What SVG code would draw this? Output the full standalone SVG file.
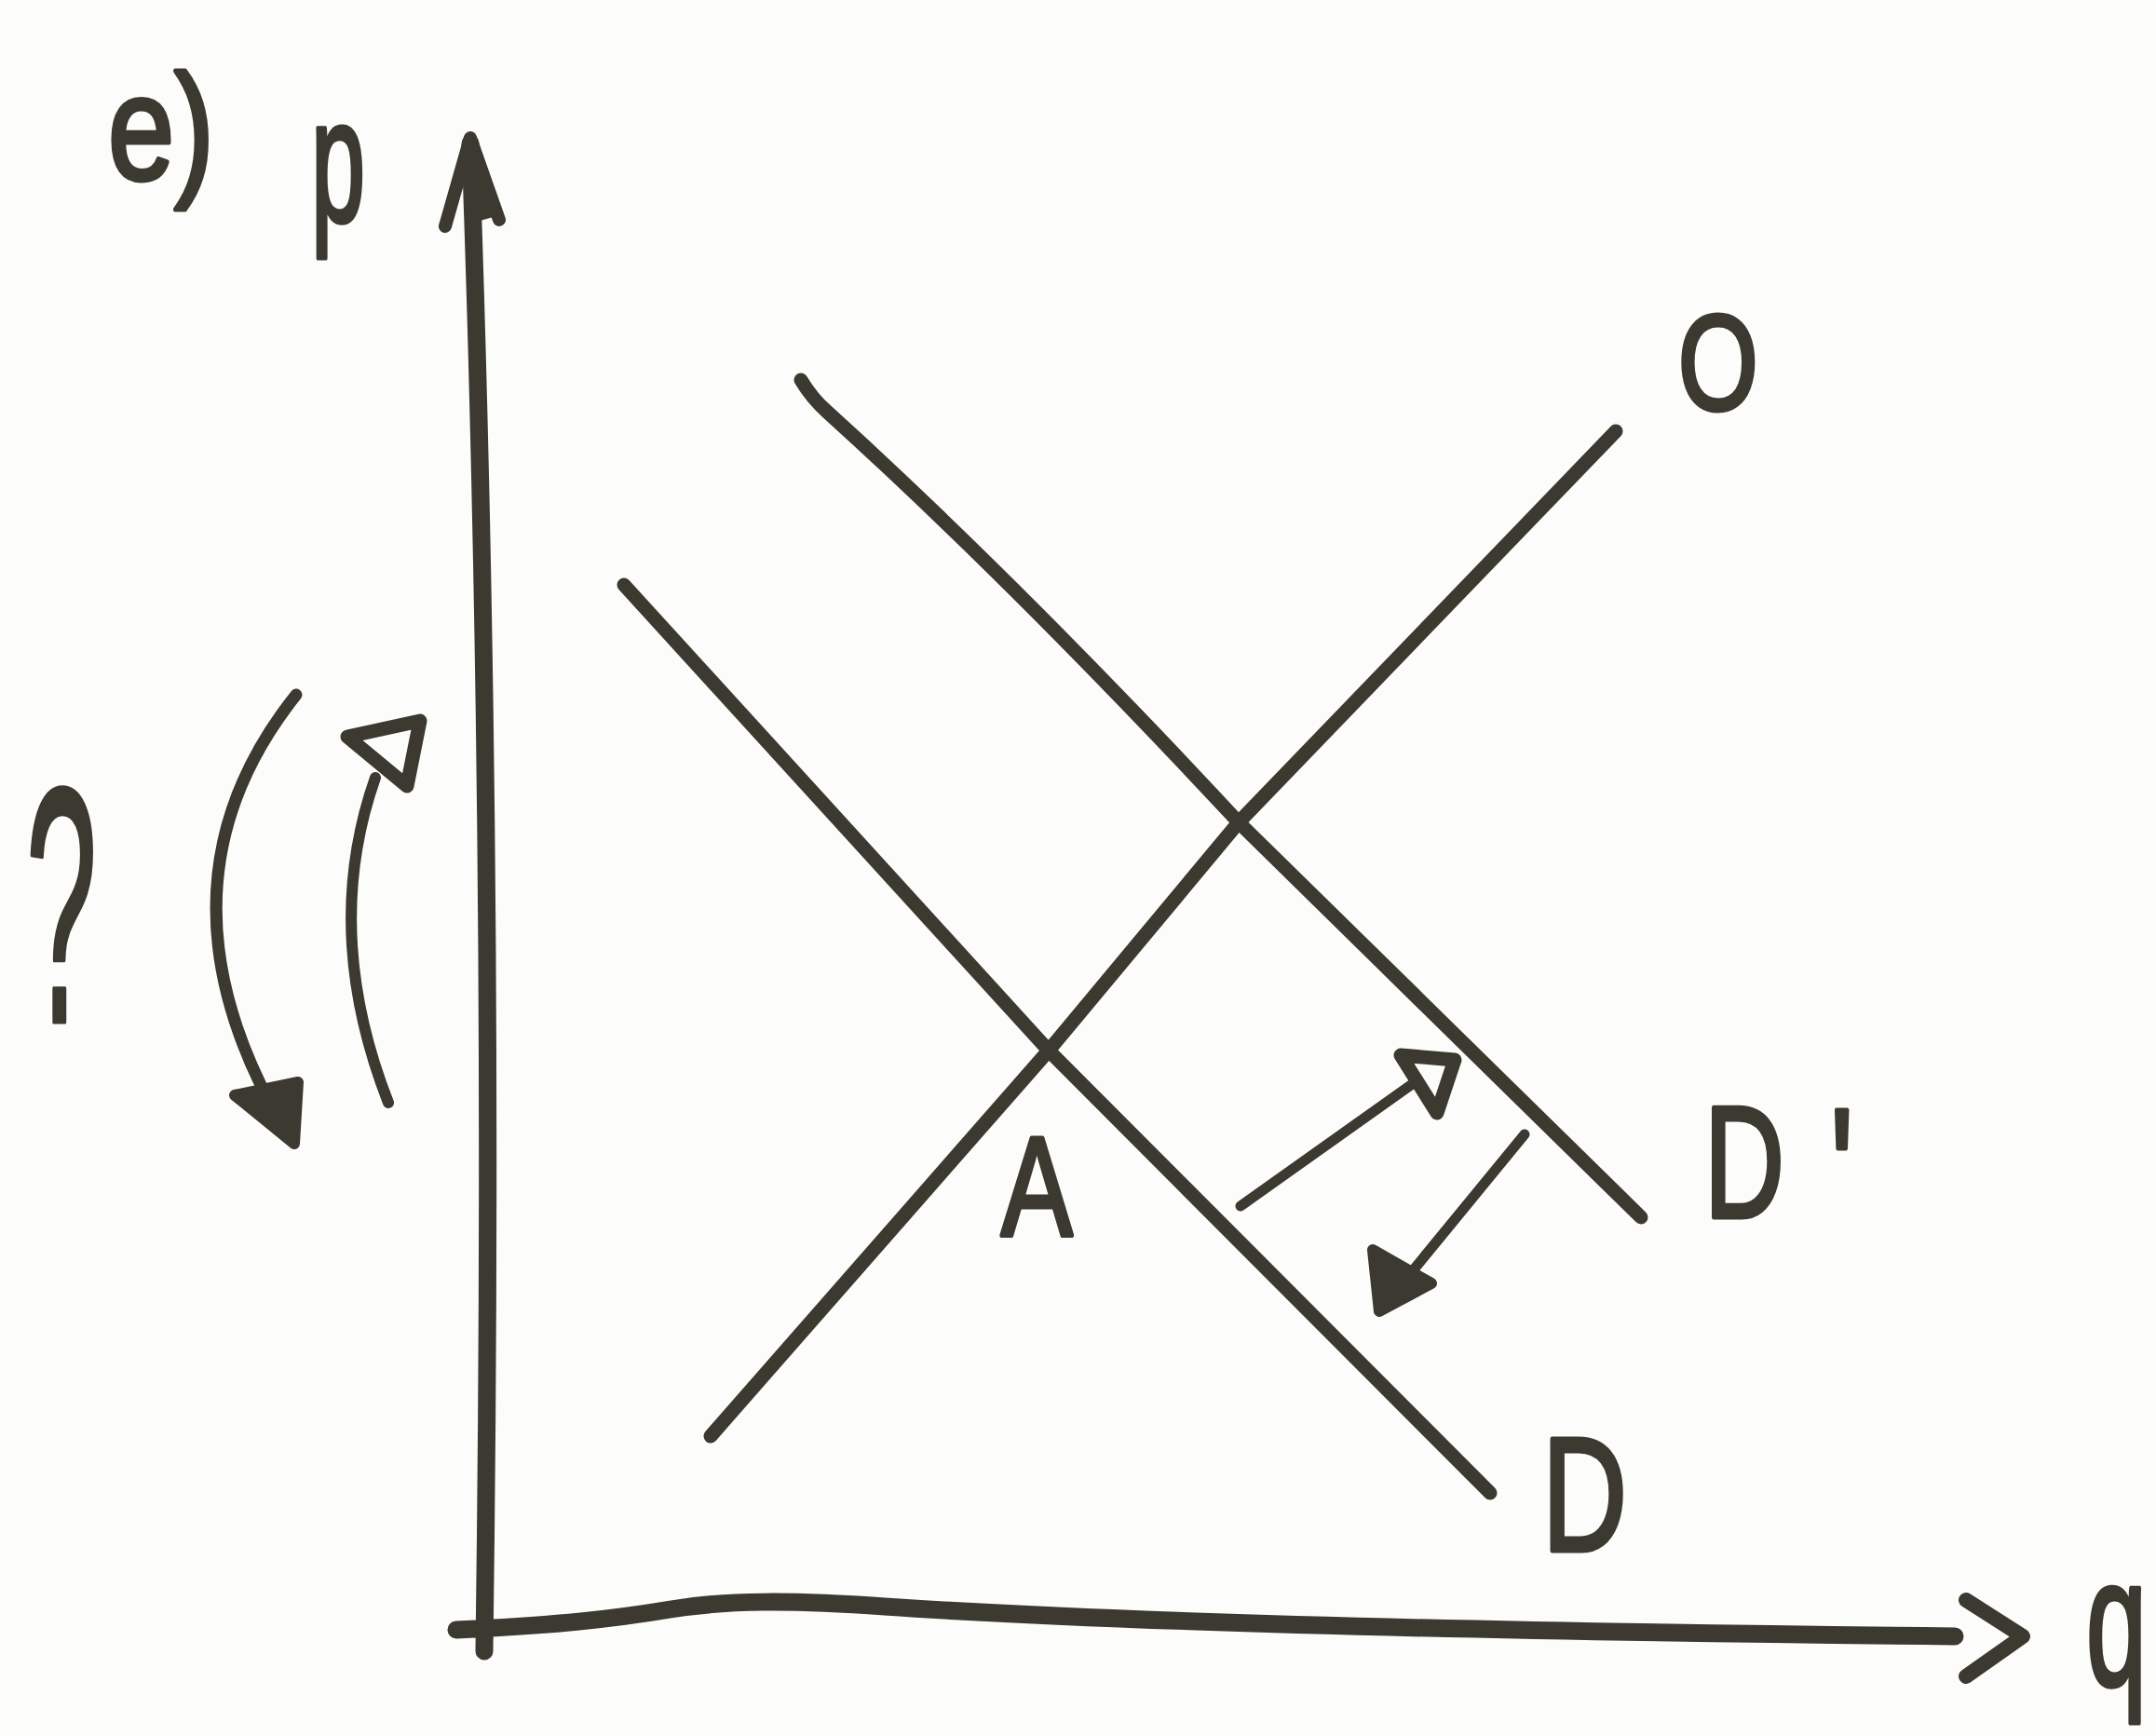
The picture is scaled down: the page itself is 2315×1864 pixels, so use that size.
<svg xmlns="http://www.w3.org/2000/svg" width="2315" height="1864" viewBox="0 0 2315 1864">
  <style>
    .ln { fill: none; stroke: #3b3930; stroke-linecap: round; stroke-linejoin: round; }
    .ax { stroke-width: 19; }
    .cv { stroke-width: 15; }
    .ar { stroke-width: 11; }
    .hd { fill: #3b3930; stroke: #3b3930; stroke-width: 12; stroke-linejoin: round; }
    .ho { fill: none; stroke: #3b3930; stroke-width: 15; stroke-linejoin: round; }
    .lbl { font-family: "Liberation Sans", "DejaVu Sans", sans-serif; fill: #3b3930; stroke: #3b3930; stroke-width: 5; stroke-linejoin: round; }
  </style>
  <rect x="0" y="0" width="2315" height="1864" fill="#fcfcfb"/>

  <g id="axes">
    <path class="ln ax" d="M505,154 Q532,900 520,1773"/>
    <path class="ln" stroke-width="14" d="M478,243 L505,148 L536,236"/>
    <polygon points="505,150 533,232 512,238" fill="#3b3930"/>
    <path class="ln ax" d="M490,1750 C600,1745 660,1738 720,1728 C780,1718 850,1718 950,1725 C1200,1742 1600,1752 2099,1757"/>
    <path class="ln" stroke-width="16" d="M2111,1718 L2172,1757 L2111,1800"/>
  </g>

  <g id="connectors">
    <path id="curve-supply-O" class="ln cv" d="M763,1542 L1126,1128 L1330,883 L1735,463"/>
    <path id="curve-demand-Dprime" class="ln cv" d="M860,408 Q872,428 888,442 Q1090,625 1330,883 L1762,1307"/>
    <path id="curve-demand-D" class="ln cv" d="M670,628 L1126,1128 L1600,1603"/>

    <g id="arrow-shift-right">
      <path class="ln ar" d="M1332,1295 L1522,1160"/>
      <polygon class="ho" points="1504,1133 1562,1138 1543,1195"/>
    </g>
    <g id="arrow-shift-left">
      <path class="ln ar" d="M1637,1218 L1500,1385"/>
      <polygon class="hd" points="1474,1342 1537,1378 1481,1408"/>
    </g>
    <g id="arrow-price-down">
      <path class="ln" stroke-width="13" d="M318,746 Q168,934 280,1165"/>
      <polygon class="hd" points="252,1176 320,1162 316,1228"/>
    </g>
    <g id="arrow-price-up">
      <path class="ln" stroke-width="12" d="M417,1184 Q345,1000 403,835"/>
      <polygon class="ho" points="373,791 451,774 437,844"/>
    </g>
  </g>

  <g id="label-part">
    <text class="lbl" transform="translate(116,192) scale(0.8,1)" font-size="160">e)</text>
  </g>
  <g id="label-p">
    <text class="lbl" transform="translate(334,238) scale(0.55,1)" font-size="190">p</text>
  </g>
  <g id="label-question">
    <text class="lbl" transform="translate(28,1097) scale(0.38,1)" font-size="360">?</text>
  </g>
  <g id="label-O">
    <text class="lbl" transform="translate(1802,440) scale(0.76,1)" font-size="145">O</text>
  </g>
  <g id="label-A">
    <text class="lbl" transform="translate(1075,1327) scale(0.75,1)" font-size="153">A</text>
  </g>
  <g id="label-Dprime">
    <text class="lbl" transform="translate(1830,1307) scale(0.7,1)" font-size="170">D<tspan dx="70" dy="15" font-size="190">'</tspan></text>
  </g>
  <g id="label-D">
    <text class="lbl" transform="translate(1656,1665) scale(0.72,1)" font-size="175">D</text>
  </g>
  <g id="label-q">
    <text class="lbl" transform="translate(2240,1810) scale(0.6,1)" font-size="195">q</text>
  </g>
</svg>
